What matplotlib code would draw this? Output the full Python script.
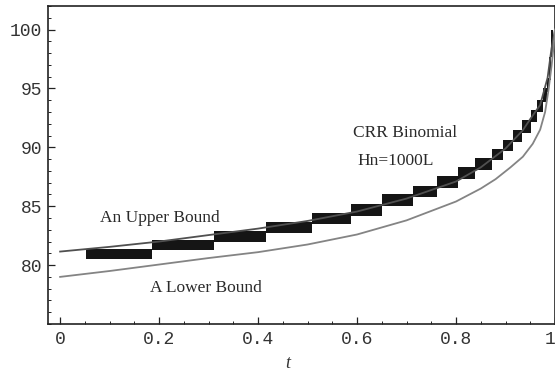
import matplotlib
matplotlib.use('Agg')
import matplotlib.pyplot as plt
from matplotlib.ticker import MultipleLocator, FixedLocator

# ---- data ----
t_upper = [0, 0.1, 0.2, 0.3, 0.4, 0.5, 0.6, 0.7, 0.8, 0.85, 0.9, 0.935, 0.95, 0.97, 0.985, 0.993, 1.0]
v_upper = [81.15, 81.55, 82.0, 82.55, 83.1, 83.75, 84.55, 85.65, 87.1, 88.3, 89.9, 91.45, 92.4, 93.6, 95.9, 98.4, 100.0]

t_lower = [0, 0.1, 0.2, 0.3, 0.4, 0.5, 0.6, 0.7, 0.8, 0.85, 0.88, 0.91, 0.935, 0.955, 0.97, 0.98, 0.987, 0.993, 0.997, 1.0]
v_lower = [79.0, 79.5, 80.05, 80.6, 81.1, 81.75, 82.6, 83.8, 85.4, 86.5, 87.3, 88.3, 89.2, 90.3, 91.5, 93.0, 94.9, 96.9, 98.5, 100.0]

step_t = [0.053, 0.185, 0.311, 0.417, 0.508, 0.587, 0.651, 0.713, 0.762, 0.805, 0.839,
          0.873, 0.894, 0.915, 0.933, 0.952, 0.964, 0.975, 0.983, 0.987, 0.991, 0.995]
step_lo = [80.55, 81.3, 82.0, 82.75, 83.5, 84.2, 85.0, 85.78, 86.55, 87.33, 88.05,
           88.9, 89.68, 90.45, 91.25, 92.15, 93.0, 93.85, 94.7, 95.7, 97.68]
step_hi = [81.4, 82.1, 82.88, 83.65, 84.45, 85.15, 86.0, 86.75, 87.55, 88.3, 89.1,
           89.86, 90.65, 91.45, 92.28, 93.18, 94.02, 95.0, 95.85, 97.68, 99.94]

x_ticks = [0, 0.2, 0.4, 0.6, 0.8, 1.0]
x_tick_labels = ["0", "0.2", "0.4", "0.6", "0.8", "1"]
y_ticks = [80, 85, 90, 95, 100]
y_tick_labels = ["80", "85", "90", "95", "100"]

label_upper = "An Upper Bound"
label_lower = "A Lower Bound"
label_crr1 = "CRR Binomial"
label_crr2 = "Hn=1000L"

# ---- figure ----
fig = plt.figure(figsize=(5.55, 3.71), dpi=100)
ax = fig.add_axes([48/555, 1 - 324/371, (555-48)/555, (324-6)/371])

ax.fill_between(step_t, step_lo + [step_lo[-1]], step_hi + [step_hi[-1]],
                step='post', color='#151515', lw=0, zorder=2)
ax.plot(t_upper, v_upper, color='#505050', lw=1.3, zorder=3)
ax.plot(t_lower, v_lower, color='#848484', lw=1.3, zorder=3)

ax.set_xlim(-0.0245, 1.0)
ax.set_ylim(75, 102)

ax.xaxis.set_major_locator(FixedLocator(x_ticks))
ax.set_xticklabels(x_tick_labels)
ax.yaxis.set_major_locator(FixedLocator(y_ticks))
ax.set_yticklabels(y_tick_labels)
ax.xaxis.set_minor_locator(MultipleLocator(0.05))
ax.yaxis.set_minor_locator(MultipleLocator(1))

ax.tick_params(which='both', direction='in', top=False, right=False, colors='#222222')
ax.tick_params(which='major', length=5, width=0.9)
ax.tick_params(which='minor', length=2.5, width=0.7)
ax.tick_params(axis='x', which='major', pad=5)
ax.tick_params(axis='y', which='major', pad=4)
for lab in ax.get_xticklabels() + ax.get_yticklabels():
    lab.set_family('Liberation Mono')
    lab.set_fontsize(13)
    lab.set_color('#333333')
# keep the last x label inside the canvas
ax.get_xticklabels()[-1].set_horizontalalignment('right')

for s in ax.spines.values():
    s.set_linewidth(1.2)
    s.set_color('#222222')

ax.set_xlabel('t', family='Liberation Serif', style='italic', fontsize=13,
              color='#333333')
ax.xaxis.set_label_coords((288 - 48) / 507, -(355 - 324) / 318)

serif = dict(family='Liberation Serif', fontsize=12.5, color='#2a2a2a')
ax.text(0.080, 84.0, label_upper, ha='left', va='center', **serif)
ax.text(0.181, 78.08, label_lower, ha='left', va='center', **serif)
ax.text(0.591, 91.2, label_crr1, ha='left', va='center', **serif)
ax.text(0.600, 88.85, label_crr2, ha='left', va='center', **serif)

fig.savefig('out.png', dpi=100)
